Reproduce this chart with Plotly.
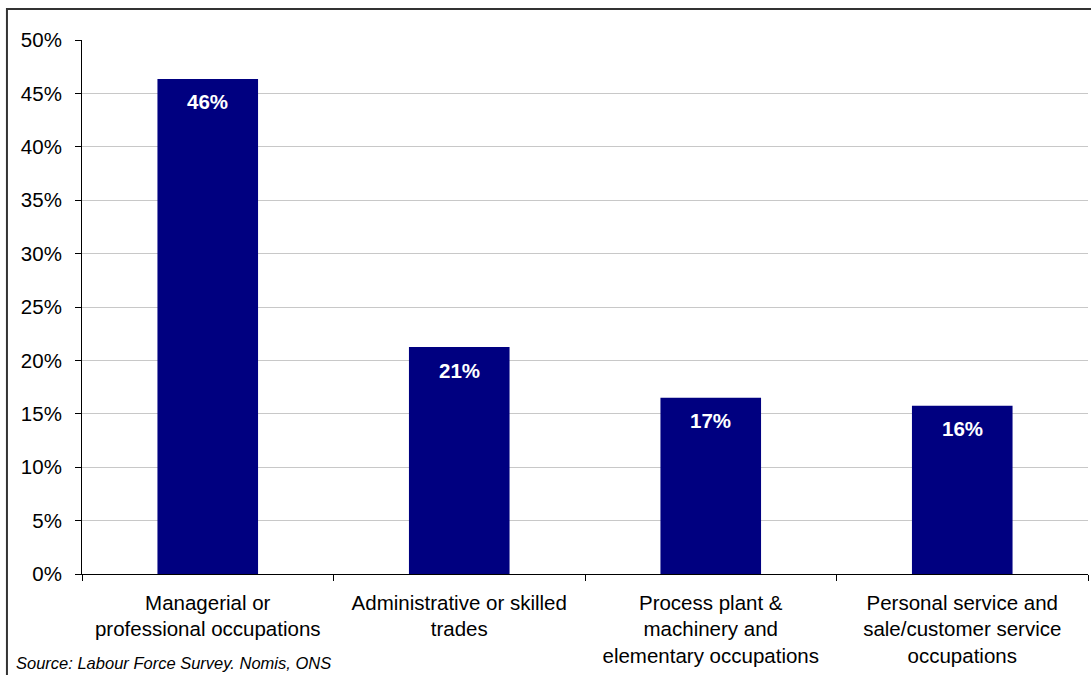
import plotly.graph_objects as go

categories = [
    "Managerial or<br>professional occupations",
    "Administrative or skilled<br>trades",
    "Process plant &<br>machinery and<br>elementary occupations",
    "Personal service and<br>sale/customer service<br>occupations",
]
values = [46.35, 21.25, 16.5, 15.75]
value_labels = ["46%", "21%", "17%", "16%"]
y_ticks = [0, 5, 10, 15, 20, 25, 30, 35, 40, 45, 50]
y_tick_labels = [f"{t}%" for t in y_ticks]
source_text = "Source: Labour Force Survey. Nomis, ONS"

FONT = "Liberation Sans, Arial, sans-serif"

fig = go.Figure()
fig.add_trace(go.Bar(
    x=categories, y=values,
    marker=dict(color="#000080", line=dict(width=0)),
    width=0.4,
    hoverinfo="skip",
))

for c, v, lab in zip(categories, values, value_labels):
    fig.add_annotation(
        x=c, y=v, text=f"<b>{lab}</b>", showarrow=False,
        yanchor="middle", yshift=-23,
        font=dict(family=FONT, size=20.5, color="white"),
    )

fig.add_annotation(
    xref="paper", yref="paper", x=-0.068, y=-0.167,
    xanchor="left", yanchor="middle", showarrow=False,
    text=f"<i>{source_text}</i>",
    font=dict(family=FONT, size=16.5, color="black"),
)

fig.add_shape(
    type="rect", xref="paper", yref="paper",
    x0=-0.0746, y0=-0.3, x1=1.02, y1=1.058,
    line=dict(color="#333333", width=2), layer="below",
)

fig.update_layout(
    width=1091, height=675,
    margin=dict(l=82, r=3, t=40, b=101),
    paper_bgcolor="white", plot_bgcolor="white",
    showlegend=False,
    font=dict(family=FONT, size=20.5, color="black"),
    bargap=0.6,
)
fig.update_xaxes(
    showline=True, linecolor="black", linewidth=1,
    ticks="outside", tickson="boundaries", ticklen=6, tickcolor="black",
    ticklabelstandoff=10,
    tickfont=dict(family=FONT, size=20.5, color="black"),
    showgrid=False,
)
fig.update_yaxes(
    range=[0, 50], tickvals=y_ticks, ticktext=y_tick_labels,
    showline=True, linecolor="black", linewidth=1,
    ticks="outside", ticklen=6, tickcolor="black",
    ticklabelstandoff=9,
    showgrid=True, gridcolor="#c8c8c8", gridwidth=1,
    zeroline=False,
    tickfont=dict(family=FONT, size=20.5, color="black"),
)

fig.write_html(
    "out.html",
    config={"displayModeBar": False},
    post_script="document.body.style.margin='0';document.body.style.padding='0';",
)
